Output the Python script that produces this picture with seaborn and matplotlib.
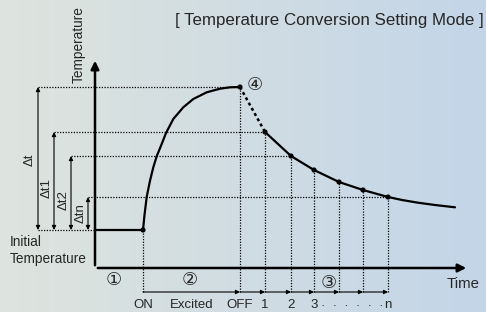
import matplotlib
matplotlib.use('Agg')
import matplotlib.pyplot as plt
import numpy as np
import pandas as pd
import seaborn as sns

# schematic units: time = px right of the temperature axis, temp = px above the time axis
initial_temp = 38
on_time = 48
off_time = 145
peak_temp = 181

rise_time = [48, 49.5, 51.7, 55, 58.3, 61.7, 66.7, 71, 78.3, 88.3, 98.3, 111.7, 125, 135, 145]
rise_temp = [38, 53, 71, 87.3, 100.7, 111.7, 124, 135, 149, 160.7, 169, 175.7, 179.3, 180.7, 181]

sample_time = [170, 196, 219, 244, 268, 293]
sample_temp = [136, 112, 98, 86, 78, 71]
sample_labels = ['1', '2', '3', '', '', 'n']

tail_time = [307, 323, 340, 360]
tail_temp = [68, 65.3, 63, 60.7]

delta_labels = ['Δt', 'Δt1', 'Δt2', 'Δtn']
delta_levels = [peak_temp, sample_temp[0], sample_temp[1], sample_temp[-1]]

sns.set_theme(style='white')
plt.rcParams['font.family'] = ['Liberation Sans', 'DejaVu Sans']
circ_font = ['DejaVu Sans', 'Noto Sans CJK JP']

fig = plt.figure(figsize=(4.86, 3.12), dpi=100)
ax = fig.add_axes([0, 0, 1, 1])
ax.set_xlim(-95, 391)
ax.set_ylim(-44, 268)
ax.axis('off')

# background gradient
left = np.array([222, 228, 222]) / 255
right = np.array([195, 213, 232]) / 255
g = np.linspace(0, 1, 256)[:, None]
grad = (left[None, :] * (1 - g) + right[None, :] * g)[None, :, :]
ax.imshow(grad, extent=[-95, 391, -44, 268], aspect='auto', zorder=0)

dot = dict(color='black', lw=0.9, ls=(0, (1, 1.2)), zorder=2)
arrow_y = -24

# dotted guides
ax.plot([-57, 0], [initial_temp, initial_temp], **dot)
xs_delta = [-57, -41, -24, -7]
guide_t = [off_time, sample_time[0], sample_time[1], sample_time[-1]]
for x0, lvl, t in zip(xs_delta, delta_levels, guide_t):
    ax.plot([x0, t], [lvl, lvl], **dot)
for t, T in zip([on_time, off_time] + sample_time, [initial_temp, peak_temp] + sample_temp):
    ax.plot([t, t], [arrow_y, T], **dot)

# axes arrows
ax.annotate('', xy=(0, 210), xytext=(0, 0),
            arrowprops=dict(arrowstyle='-|>', color='black', lw=1.8, mutation_scale=12), zorder=3)
ax.annotate('', xy=(374, 0), xytext=(0, 0),
            arrowprops=dict(arrowstyle='-|>', color='black', lw=1.8, mutation_scale=12), zorder=3)

# temperature curve
ax.plot([0, on_time], [initial_temp, initial_temp], color='black', lw=1.6, zorder=4)
rise = pd.DataFrame({'time': rise_time, 'temp': rise_temp})
sns.lineplot(data=rise, x='time', y='temp', color='black', lw=1.6, sort=False, ax=ax, zorder=4)
ax.plot([off_time, sample_time[0]], [peak_temp, sample_temp[0]], color='black', lw=1.8,
        ls=(0, (1.2, 1.2)), zorder=4)
decay = pd.DataFrame({'time': sample_time + tail_time, 'temp': sample_temp + tail_temp})
sns.lineplot(data=decay, x='time', y='temp', color='black', lw=1.6, sort=False, ax=ax, zorder=4)
pts = pd.DataFrame({'time': [on_time, off_time] + sample_time,
                    'temp': [initial_temp, peak_temp] + sample_temp})
sns.scatterplot(data=pts, x='time', y='temp', color='black', s=14, edgecolor='none', ax=ax, zorder=5)

# delta arrows
for x0, lvl, lab, lx, ly in zip(xs_delta, delta_levels, delta_labels,
                                [-65, -48, -31, -14], [108, 80, 68, 55]):
    ax.annotate('', xy=(x0, lvl), xytext=(x0, initial_temp),
                arrowprops=dict(arrowstyle='<|-|>', color='black', lw=0.8, mutation_scale=6,
                                shrinkA=0, shrinkB=0), zorder=3)
    ax.text(lx, ly, lab, rotation=90, ha='center', va='center', fontsize=9.5)

# time arrows
stops = [on_time, off_time] + sample_time
for a, b in zip(stops[:-1], stops[1:]):
    ax.annotate('', xy=(b, arrow_y), xytext=(a, arrow_y),
                arrowprops=dict(arrowstyle='-|>', color='black', lw=0.8, mutation_scale=6,
                                shrinkA=0, shrinkB=0), zorder=3)

lab_y = -37
ax.text(on_time, lab_y, 'ON', ha='center', va='center', fontsize=9.5)
ax.text(97, lab_y, 'Excited', ha='center', va='center', fontsize=9.5)
ax.text(off_time, lab_y, 'OFF', ha='center', va='center', fontsize=9.5)
for t, lab in zip(sample_time, sample_labels):
    if lab:
        ax.text(t, lab_y, lab, ha='center', va='center', fontsize=9.5)
ax.text(257, lab_y - 1, '·  ·  ·  ·  ·  ·', ha='center', va='center', fontsize=9.5)

# circled step numbers
ax.text(19, -12, '①', ha='center', va='center', fontsize=13, family=circ_font)
ax.text(95, -12, '②', ha='center', va='center', fontsize=13, family=circ_font)
ax.text(234, -15, '③', ha='center', va='center', fontsize=13, family=circ_font)
ax.text(160, 183, '④', ha='center', va='center', fontsize=13, family=circ_font)

ax.text(-16, 223, 'Temperature', rotation=90, ha='center', va='center', fontsize=9.8)
ax.text(-85, 33, 'Initial\nTemperature', ha='left', va='top', fontsize=9.8, linespacing=1.25)
ax.text(368, -16, 'Time', ha='center', va='center', fontsize=10.8)
ax.text(389, 248, '[ Temperature Conversion Setting Mode ]', ha='right', va='center', fontsize=12.2)

fig.savefig('out.png', dpi=100)
